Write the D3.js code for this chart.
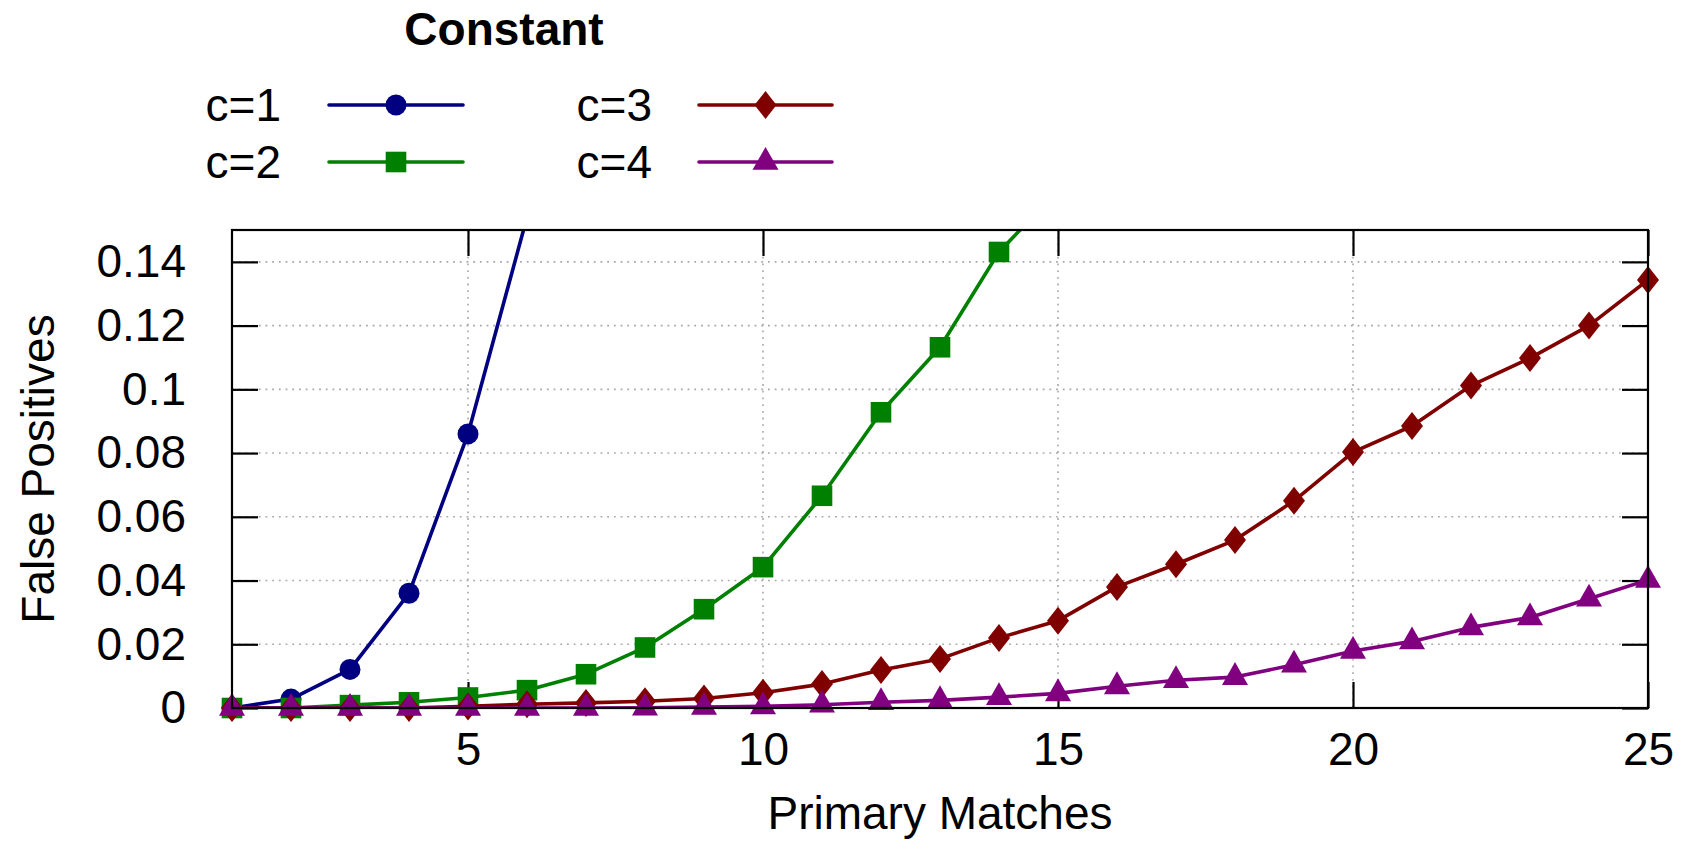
<!DOCTYPE html>
<html><head><meta charset="utf-8">
<script src="https://cdn.jsdelivr.net/npm/d3@7"></script>
<style>
body{margin:0;background:#fff}
svg{display:block}
text{font-family:"Liberation Sans",Arial,sans-serif;fill:#000}
</style>
</head><body>
<svg id="chart" width="1682" height="841"></svg>
<script>
// ---- data ----
const xValues = [1,2,3,4,5,6,7,8,9,10,11,12,13,14,15,16,17,18,19,20,21,22,23,24,25];
const c1 = [0, 0.0028, 0.0121, 0.036, 0.086, 0.154];
const c2 = [0, 0, 0.0009, 0.0018, 0.0033, 0.0056, 0.0106, 0.019, 0.031, 0.0442, 0.0666, 0.0928, 0.1132, 0.1431, 0.1624];
const c3 = [0, 0, 0, 0, 0.0005, 0.0012, 0.0016, 0.0021, 0.003, 0.0048, 0.0075, 0.0119, 0.0154, 0.022, 0.0274, 0.038, 0.0451, 0.0527, 0.065, 0.0803, 0.0885, 0.1012, 0.1098, 0.12, 0.1343];
const c4 = [0, 0, 0, 0, 0, 0, 0, 0.0001, 0.0003, 0.0005, 0.001, 0.0018, 0.0024, 0.0034, 0.0046, 0.0068, 0.0087, 0.0097, 0.0136, 0.0179, 0.0209, 0.0253, 0.0284, 0.0343, 0.0402];
const seriesNames = ["c=1", "c=2", "c=3", "c=4"];
const seriesValues = [c1, c2, c3, c4];
const seriesColors = ["#000080", "#008000", "#800000", "#800080"];
const seriesSymbols = ["circle", "square", "diamond", "triangle"];
const xTicks = [5, 10, 15, 20, 25];
const xTickLabels = ["5", "10", "15", "20", "25"];
const yTicks = [0, 0.02, 0.04, 0.06, 0.08, 0.1, 0.12, 0.14];
const yTickLabels = ["0", "0.02", "0.04", "0.06", "0.08", "0.1", "0.12", "0.14"];
const xDomain = [1, 25];
const yDomain = [0, 0.15];
const legendTitle = "Constant";
const xTitle = "Primary Matches";
const yTitle = "False Positives";

// ---- layout ----
const L = 232, R = 1648, T = 230, B = 708;
const FS = 46;
const LW = 3.6;
const svg = d3.select("#chart");
const x = d3.scaleLinear().domain(xDomain).range([L, R]);
const y = d3.scaleLinear().domain(yDomain).range([B, T]);

svg.append("defs").append("clipPath").attr("id","plotclip")
  .append("rect").attr("x", L).attr("y", T).attr("width", R - L).attr("height", B - T);

// grid
const grid = svg.append("g").attr("stroke", "#a8a8a8").attr("stroke-width", 1.6)
  .attr("stroke-dasharray", "1.8,4.9").attr("fill", "none");
grid.selectAll("line.gy").data(yTicks.filter(d => d > 0)).join("line")
  .attr("x1", L).attr("x2", R).attr("y1", d => y(d)).attr("y2", d => y(d));
grid.selectAll("line.gx").data(xTicks.filter(d => d < xDomain[1])).join("line")
  .attr("y1", T).attr("y2", B).attr("x1", d => x(d)).attr("x2", d => x(d));

// axes (inward ticks, mirrored)
const TL = 26;
function styleAxis(g) {
  g.attr("font-size", FS).attr("font-family", "Liberation Sans, Arial, sans-serif");
  g.select(".domain").remove();
  g.selectAll(".tick line").attr("stroke", "#000").attr("stroke-width", 2.2);
  g.selectAll(".tick text").attr("fill", "#000");
}
svg.append("g").attr("transform", `translate(0,${B})`)
  .call(d3.axisBottom(x).tickValues(xTicks).tickFormat((d, i) => xTickLabels[i]).tickSize(-TL).tickPadding(24))
  .call(styleAxis);
svg.append("g").attr("transform", `translate(0,${T})`)
  .call(d3.axisTop(x).tickValues(xTicks).tickFormat("").tickSize(-TL))
  .call(styleAxis);
svg.append("g").attr("transform", `translate(${L},0)`)
  .call(d3.axisLeft(y).tickValues(yTicks).tickFormat((d, i) => yTickLabels[i]).tickSize(-TL).tickPadding(46))
  .call(styleAxis);
svg.append("g").attr("transform", `translate(${R},0)`)
  .call(d3.axisRight(y).tickValues(yTicks).tickFormat("").tickSize(-TL))
  .call(styleAxis);

// symbols
function symbolPath(kind) {
  switch (kind) {
    case "circle": return d3.symbol(d3.symbolCircle, Math.PI * 10.5 * 10.5)();
    case "square": return "M-10.3,-10.3H10.3V10.3H-10.3Z";
    case "diamond": return "M0,-14L11,0L0,14L-11,0Z";
    case "triangle": return "M0,-15L13,7.8L-13,7.8Z";
  }
}

// lines
const line = d3.line().x(d => x(d[0])).y(d => y(d[1]));
const plot = svg.append("g");
seriesValues.forEach((vals, i) => {
  const pts = vals.map((v, j) => [xValues[j], v]);
  const g = plot.append("g");
  g.append("path").datum(pts).attr("d", line)
    .attr("fill", "none").attr("stroke", seriesColors[i]).attr("stroke-width", LW)
    .attr("stroke-linejoin", "round").attr("clip-path", "url(#plotclip)");
  g.selectAll("path.pt").data(pts.filter(p => p[1] <= yDomain[1])).join("path")
    .attr("class", "pt")
    .attr("d", symbolPath(seriesSymbols[i]))
    .attr("transform", p => `translate(${x(p[0])},${y(p[1])})`)
    .attr("fill", seriesColors[i]);
});

// frame
svg.append("rect").attr("x", L).attr("y", T).attr("width", R - L).attr("height", B - T)
  .attr("fill", "none").attr("stroke", "#000").attr("stroke-width", 2.2);

// axis titles
svg.append("text").attr("x", (L + R) / 2).attr("y", 829).attr("text-anchor", "middle")
  .attr("font-size", FS).text(xTitle);
svg.append("text").attr("transform", `translate(54,${(T + B) / 2}) rotate(-90)`)
  .attr("text-anchor", "middle").attr("font-size", FS).text(yTitle);

// legend
svg.append("text").attr("x", 504).attr("y", 45).attr("text-anchor", "middle")
  .attr("font-size", FS).attr("font-weight", "bold").text(legendTitle);
const legCols = [{textR: 281, l1: 329, l2: 463}, {textR: 652, l1: 699, l2: 832}];
const legRows = [105, 162];
seriesNames.forEach((name, i) => {
  const col = legCols[Math.floor(i / 2)], ry = legRows[i % 2];
  const g = svg.append("g");
  g.append("text").attr("x", col.textR).attr("y", ry + 16).attr("text-anchor", "end")
    .attr("font-size", FS).text(name);
  g.append("line").attr("x1", col.l1).attr("x2", col.l2).attr("y1", ry).attr("y2", ry)
    .attr("stroke", seriesColors[i]).attr("stroke-width", LW).attr("stroke-linecap", "round");
  g.append("path").attr("d", symbolPath(seriesSymbols[i]))
    .attr("transform", `translate(${(col.l1 + col.l2) / 2},${ry})`).attr("fill", seriesColors[i]);
});
</script>
</body></html>
